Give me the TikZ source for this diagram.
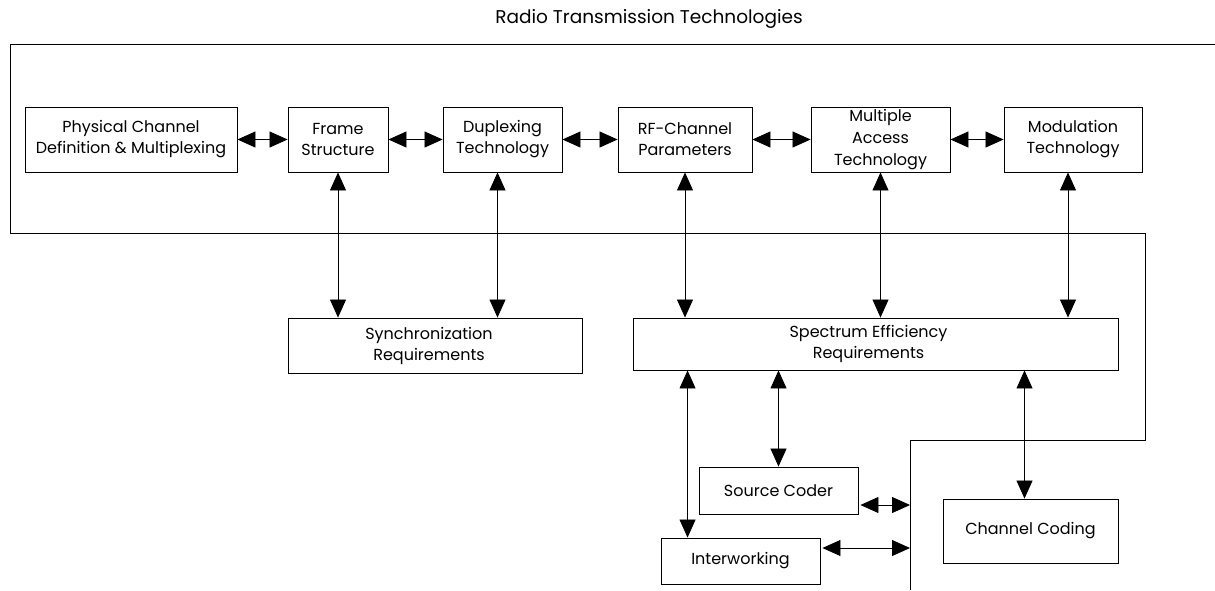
\documentclass[tikz,border=0pt]{standalone}
\usepackage{fontspec}
\setmainfont{Poppins}
\usetikzlibrary{arrows.meta}
\begin{document}
\begin{tikzpicture}[x=1pt,y=-1pt,
  box/.style={draw, line width=0.9pt, inner sep=0pt, align=center, font=\fontsize{16}{21}\selectfont},
  tip/.tip={Triangle[length=18pt,width=16pt]},
  link/.style={line width=0.8pt, tip-tip},
  frameline/.style={line width=0.8pt}]
\useasboundingbox (0,0) rectangle (1215,590);
\node[font=\fontsize{18.5}{22}\selectfont] (title) at (649,19) {Radio Transmission Technologies};
\draw[frameline] (1215,44) -- (10,44) -- (10,233) -- (1145,233) -- (1145,440) -- (910,440) -- (910,590);
% top row
\node[box, minimum width=212pt, minimum height=65pt] (phys) at (131,139.5) {Physical Channel\\Definition \& Multiplexing};
\node[box, minimum width=100pt, minimum height=65pt] (frame) at (338,139.5) {Frame\\Structure};
\node[box, minimum width=119pt, minimum height=65pt] (dup) at (502.5,139.5) {Duplexing\\Technology};
\node[box, minimum width=134pt, minimum height=65pt] (rf) at (685,139.5) {RF-Channel\\Parameters};
\node[box, minimum width=139pt, minimum height=65pt, font=\fontsize{16}{22}\selectfont] (ma) at (880.5,139.5) {Multiple\\Access\\Technology};
\node[box, minimum width=138pt, minimum height=65pt] (mod) at (1073,139.5) {Modulation\\Technology};
% requirement boxes
\node[box, minimum width=294pt, minimum height=55pt] (sync) at (435,345.5) {Synchronization\hspace*{12pt}\\Requirements\hspace*{12pt}};
\node[box, minimum width=485pt, minimum height=52pt] (spec) at (875.5,344) {Spectrum Efficiency\hspace*{14pt}\\Requirements\hspace*{14pt}};
% lower boxes
\node[box, minimum width=159pt, minimum height=47pt] (src) at (778.5,490.5) {Source Coder};
\node[box, minimum width=175pt, minimum height=64pt] (chan) at (1030.5,531) {Channel Coding};
\node[box, minimum width=159pt, minimum height=46pt] (iw) at (740.5,561) {Interworking};
% horizontal links
\draw[link] (phys) -- (frame);
\draw[link] (frame) -- (dup);
\draw[link] (dup) -- (rf);
\draw[link] (rf) -- (ma);
\draw[link] (ma) -- (mod);
% vertical links
\draw[link] (frame.south) -- (frame.south |- sync.north);
\draw[link] ([xshift=-5pt]dup.south) -- ([xshift=-5pt]dup.south |- sync.north);
\draw[link] (rf.south) -- (rf.south |- spec.north);
\draw[link] (ma.south) -- (ma.south |- spec.north);
\draw[link] ([xshift=-5pt]mod.south) -- ([xshift=-5pt]mod.south |- spec.north);
\path (iw.north west) ++(27,0) coordinate (iwa);
\draw[link] (iwa |- spec.south) -- (iwa);
\draw[link] (src.north |- spec.south) -- (src.north);
\draw[link] ([xshift=-6pt]chan.north |- spec.south) -- ([xshift=-6pt]chan.north);
% links to the frame line
\coordinate (sA) at (910,505);
\coordinate (iA) at (910,548);
\draw[link, shorten <=2pt] (sA -| src.east) -- (sA);
\draw[link, shorten <=2pt] (iA -| iw.east) -- (iA);
\end{tikzpicture}
\end{document}
